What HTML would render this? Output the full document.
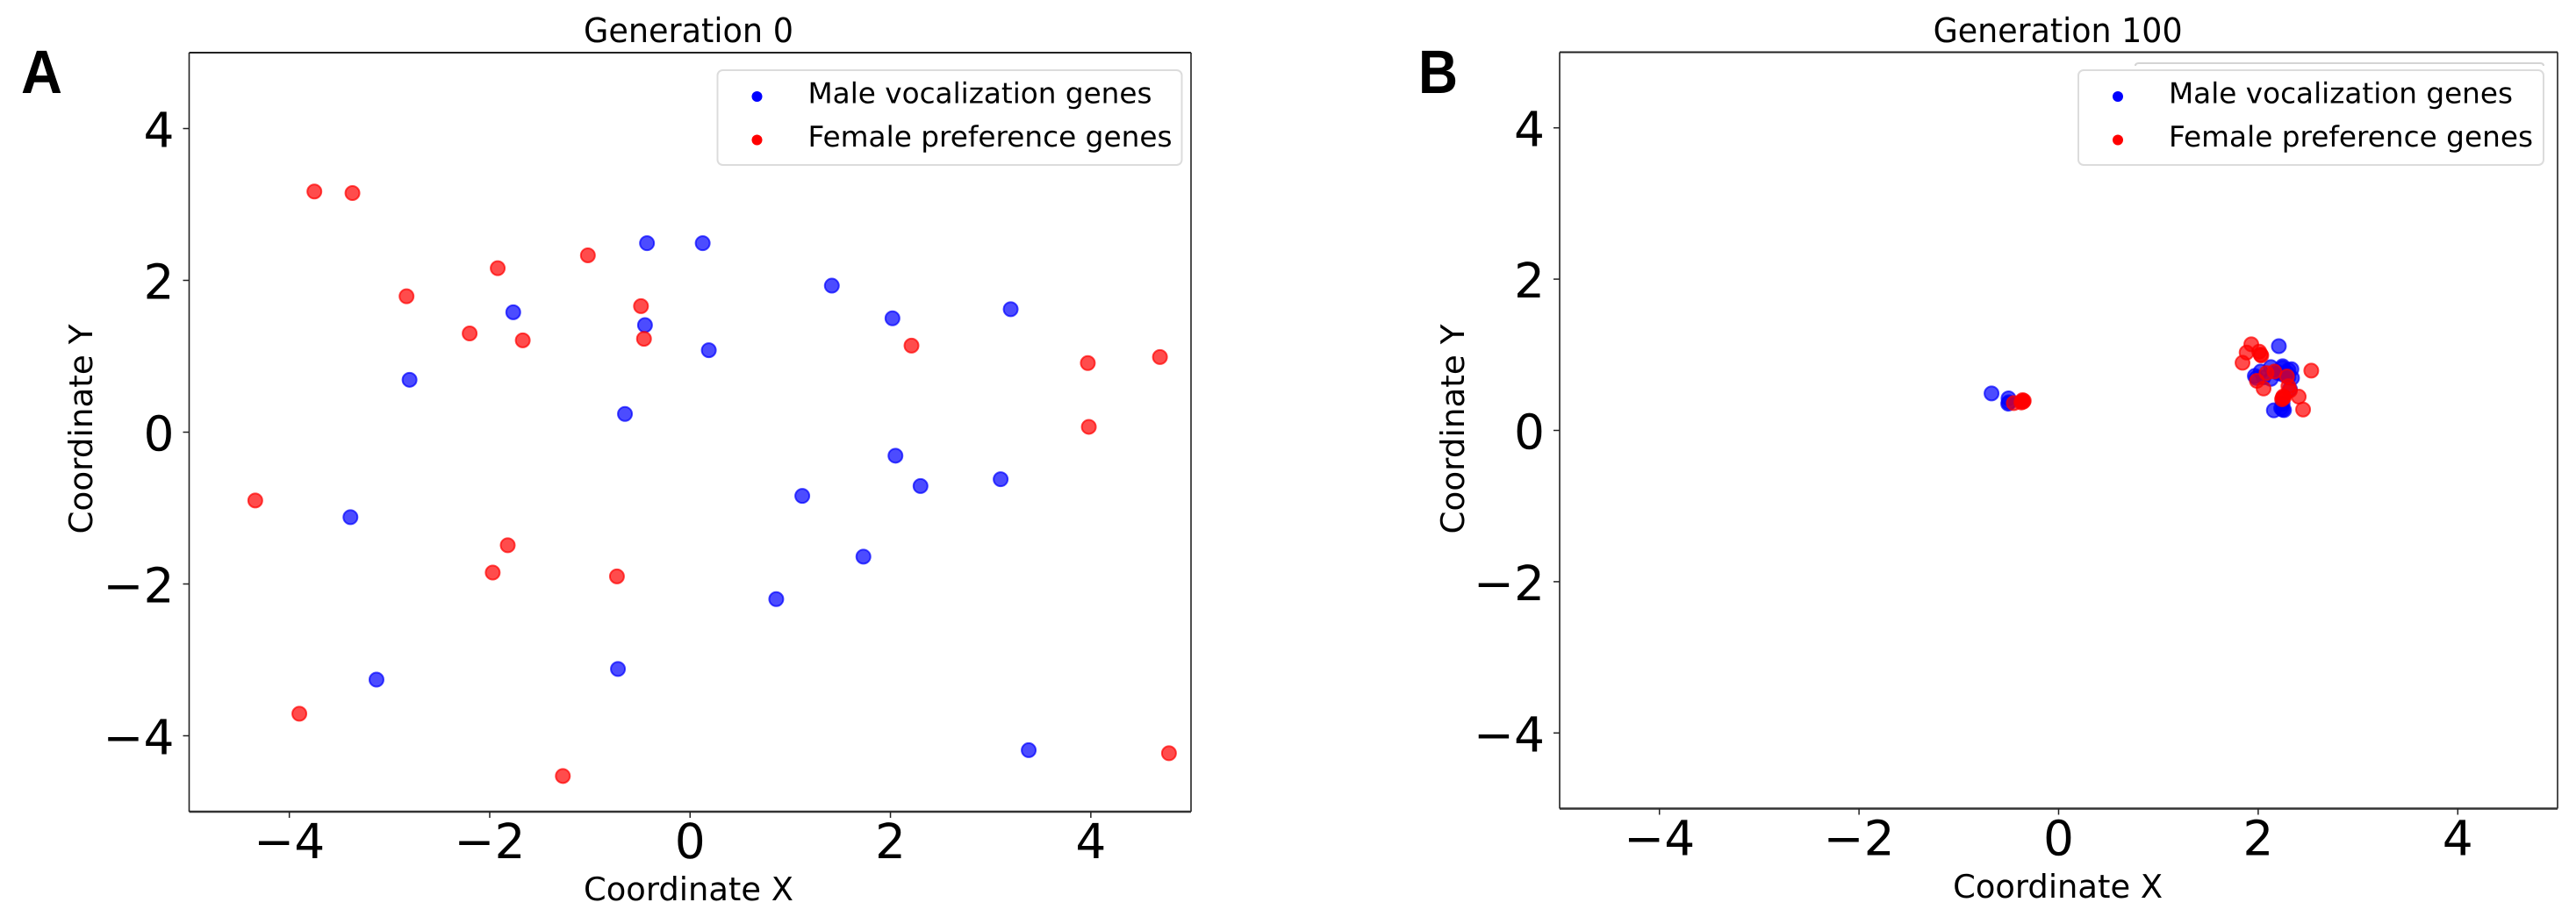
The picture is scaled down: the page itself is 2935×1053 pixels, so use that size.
<!DOCTYPE html>
<html>
<head>
<meta charset="utf-8">
<style>
html,body{margin:0;padding:0;background:#fff;width:2935px;height:1053px;overflow:hidden}
svg{display:block}
text{font-family:"DejaVu Sans","Liberation Sans",sans-serif;fill:#000;text-rendering:geometricPrecision}
.letter{font-family:"Liberation Sans","DejaVu Sans",sans-serif;font-weight:bold;font-size:70px}
</style>
</head>
<body>
<svg id="figure" xmlns="http://www.w3.org/2000/svg" width="2935" height="1053" viewBox="0 0 2935 1053">
  <rect x="0" y="0" width="2935" height="1053" fill="#fff"/>
  <text class="letter" x="24" y="106" textLength="47" lengthAdjust="spacingAndGlyphs">A</text>
  <text class="letter" x="1616" y="106" textLength="45" lengthAdjust="spacingAndGlyphs">B</text>
  <g id="panelA"></g>
  <g id="panelB"></g>
</svg>
<script>
var xTicks = [-4, -2, 0, 2, 4];
var yTicks = [4, 2, 0, -2, -4];
var seriesNames = ["Male vocalization genes", "Female preference genes"];

var gen0MaleX = [-0.43, 0.126, 1.415, -1.765, -0.45, 0.187, -2.80, -0.65, 2.02, 3.20, -3.39, 1.12, 1.73, 0.86, -3.13, -0.72, 3.38, 2.05, 2.30, 3.10];
var gen0MaleY = [2.49, 2.49, 1.93, 1.58, 1.41, 1.08, 0.69, 0.24, 1.50, 1.62, -1.12, -0.84, -1.64, -2.20, -3.26, -3.12, -4.19, -0.31, -0.71, -0.62];
var gen0FemaleX = [-3.75, -3.37, -2.83, -1.92, -1.02, -0.49, -0.46, -2.20, -1.67, 2.21, 3.97, 4.69, 3.98, -4.34, -1.82, -1.97, -0.73, -3.90, -1.27, 4.78];
var gen0FemaleY = [3.17, 3.15, 1.79, 2.16, 2.33, 1.66, 1.23, 1.30, 1.21, 1.14, 0.91, 0.99, 0.07, -0.90, -1.49, -1.85, -1.90, -3.71, -4.53, -4.23];

var gen100MaleX = [-0.672, -0.502, -0.505, -0.499, 2.207, 2.127, 2.025, 1.981, 2.127, 2.245, 2.333, 2.303, 2.186, 2.245, 2.318, 2.157, 2.245, 2.259, 2.245, 2.230, 2.201, 2.289, 2.054, 1.966, 2.303, 2.339, 2.245];
var gen100MaleY = [0.489, 0.423, 0.353, 0.373, 1.114, 0.836, 0.778, 0.693, 0.682, 0.825, 0.809, 0.701, 0.778, 0.740, 0.547, 0.265, 0.276, 0.268, 0.353, 0.295, 0.759, 0.759, 0.701, 0.720, 0.798, 0.693, 0.848];
var gen100FemaleX = [-0.449, -0.367, -0.361, -0.355, -0.373, -0.349, 1.931, 1.884, 2.010, 2.025, 2.031, 1.843, 2.532, 2.083, 2.163, 1.987, 2.054, 2.289, 2.303, 2.318, 2.406, 2.450, 2.245, 2.251, 2.239, 2.259];
var gen100FemaleY = [0.361, 0.384, 0.400, 0.380, 0.369, 0.392, 1.138, 1.029, 1.041, 1.002, 0.991, 0.894, 0.790, 0.759, 0.778, 0.655, 0.554, 0.713, 0.585, 0.527, 0.446, 0.276, 0.431, 0.450, 0.411, 0.438];

var NS = "http://www.w3.org/2000/svg";
function make(parent, tag, attrs, txt) {
  var el = document.createElementNS(NS, tag);
  for (var k in attrs) el.setAttribute(k, attrs[k]);
  if (txt !== undefined) el.textContent = txt;
  parent.appendChild(el);
  return el;
}
function fmt(v) { return v < 0 ? "\u2212" + Math.abs(v) : String(v); }

function drawPanel(cfg) {
  var g = document.getElementById(cfg.id);
  var sx = function (v) { return cfg.left + (v + 5) / 10 * (cfg.right - cfg.left); };
  var sy = function (v) { return cfg.bottom - (v + 5) / 10 * (cfg.bottom - cfg.top); };
  var el, i;

  el = make(g, "rect", {x: cfg.left, y: cfg.top, width: cfg.right - cfg.left, height: cfg.bottom - cfg.top, fill: "#fff", stroke: "none"});
  
  

  for (i = 0; i < cfg.maleX.length; i++) {
    el = make(g, "circle", {cx: sx(cfg.maleX[i]), cy: sy(cfg.maleY[i]), r: 8, fill: "#0000ff", "fill-opacity": 0.7, stroke: "#0000ff", "stroke-opacity": 0.7, "stroke-width": 2});
    
    
  }
  for (i = 0; i < cfg.femaleX.length; i++) {
    el = make(g, "circle", {cx: sx(cfg.femaleX[i]), cy: sy(cfg.femaleY[i]), r: 8, fill: "#ff0000", "fill-opacity": 0.7, stroke: "#ff0000", "stroke-opacity": 0.7, "stroke-width": 2});
    
    
  }

  el = make(g, "path", {d: "M" + cfg.left + " " + cfg.top + "H" + cfg.right, stroke: "#222", "stroke-width": 2, fill: "none"});
  
  
  el = make(g, "path", {d: "M" + cfg.right + " " + cfg.top + "V" + cfg.bottom, stroke: "#222", "stroke-width": 1.6, fill: "none"});
  
  
  el = make(g, "path", {d: "M" + cfg.left + " " + cfg.bottom + "H" + cfg.right, stroke: "#333", "stroke-width": 2.6, fill: "none"});
  
  
  el = make(g, "path", {d: "M" + cfg.left + " " + cfg.top + "V" + cfg.bottom, stroke: "#222", "stroke-width": 1.6, fill: "none"});
  
  

  xTicks.forEach(function (t) {
    var m = make(g, "path", {d: "M" + sx(t) + " " + cfg.bottom + "v7", stroke: "#222", "stroke-width": 1.5});
    
    
    var l = make(g, "text", {x: sx(t), y: cfg.bottom + 53, "text-anchor": "middle", "font-size": 55}, fmt(t));
    
    
  });
  yTicks.forEach(function (t) {
    var m = make(g, "path", {d: "M" + cfg.left + " " + sy(t) + "h-7", stroke: "#222", "stroke-width": 1.5});
    
    
    var l = make(g, "text", {x: cfg.left - 17, y: sy(t) + 21, "text-anchor": "end", "font-size": 55}, fmt(t));
    
    
  });

  el = make(g, "text", {x: cfg.cx, y: 48, "text-anchor": "middle", "font-size": 38.5, textLength: cfg.titleLen, lengthAdjust: "spacingAndGlyphs"}, cfg.title);
  
  
  el = make(g, "text", {x: cfg.cx, y: cfg.xLabelY, "text-anchor": "middle", "font-size": 36.8, textLength: 239, lengthAdjust: "spacingAndGlyphs"}, "Coordinate X");
  
  
  el = make(g, "text", {transform: "translate(" + cfg.yLabelX + " " + cfg.yLabelCy + ") rotate(-90)", "text-anchor": "middle", "font-size": 36.8, textLength: 239, lengthAdjust: "spacingAndGlyphs"}, "Coordinate Y");
  
  

  if (cfg.ghost) {
    el = make(g, "path", {d: "M" + cfg.ghost + " 75 q0 -3 4 -3 H" + (cfg.legRight - 4) + " q4 0 4 3", stroke: "#d4d4d4", "stroke-width": 2, fill: "none"});
    
    
  }

  el = make(g, "rect", {x: cfg.legLeft, y: 80, width: cfg.legRight - cfg.legLeft, height: 108, rx: 6, ry: 6, fill: "#fff", "fill-opacity": 0.85, stroke: "#dcdcdc", "stroke-width": 2});
  
  

  el = make(g, "circle", {cx: cfg.legLeft + 45, cy: 110, r: 6, fill: "#0000ff"});
  
  
  el = make(g, "circle", {cx: cfg.legLeft + 45, cy: 159.5, r: 6, fill: "#ff0000"});
  
  
  el = make(g, "text", {x: cfg.legLeft + 103, y: 117.5, "font-size": 32.5, textLength: 392, lengthAdjust: "spacingAndGlyphs"}, seriesNames[0]);
  
  
  el = make(g, "text", {x: cfg.legLeft + 103, y: 167, "font-size": 32.5, textLength: 415, lengthAdjust: "spacingAndGlyphs"}, seriesNames[1]);
  
  
}

drawPanel({
  id: "panelA", left: 215.5, right: 1357, top: 60, bottom: 925,
  cx: 784.5, xLabelY: 1026, yLabelX: 105, yLabelCy: 489,
  title: "Generation 0", titleLen: 239, legLeft: 817.5, legRight: 1346.5,
  maleX: gen0MaleX, maleY: gen0MaleY, femaleX: gen0FemaleX, femaleY: gen0FemaleY
});
drawPanel({
  id: "panelB", left: 1777, right: 2914, top: 59.5, bottom: 921.5,
  cx: 2344.6, xLabelY: 1023, yLabelX: 1668, yLabelCy: 489,
  title: "Generation 100", titleLen: 284, legLeft: 2368, legRight: 2898, ghost: 2433,
  maleX: gen100MaleX, maleY: gen100MaleY, femaleX: gen100FemaleX, femaleY: gen100FemaleY
});
</script>
</body>
</html>
